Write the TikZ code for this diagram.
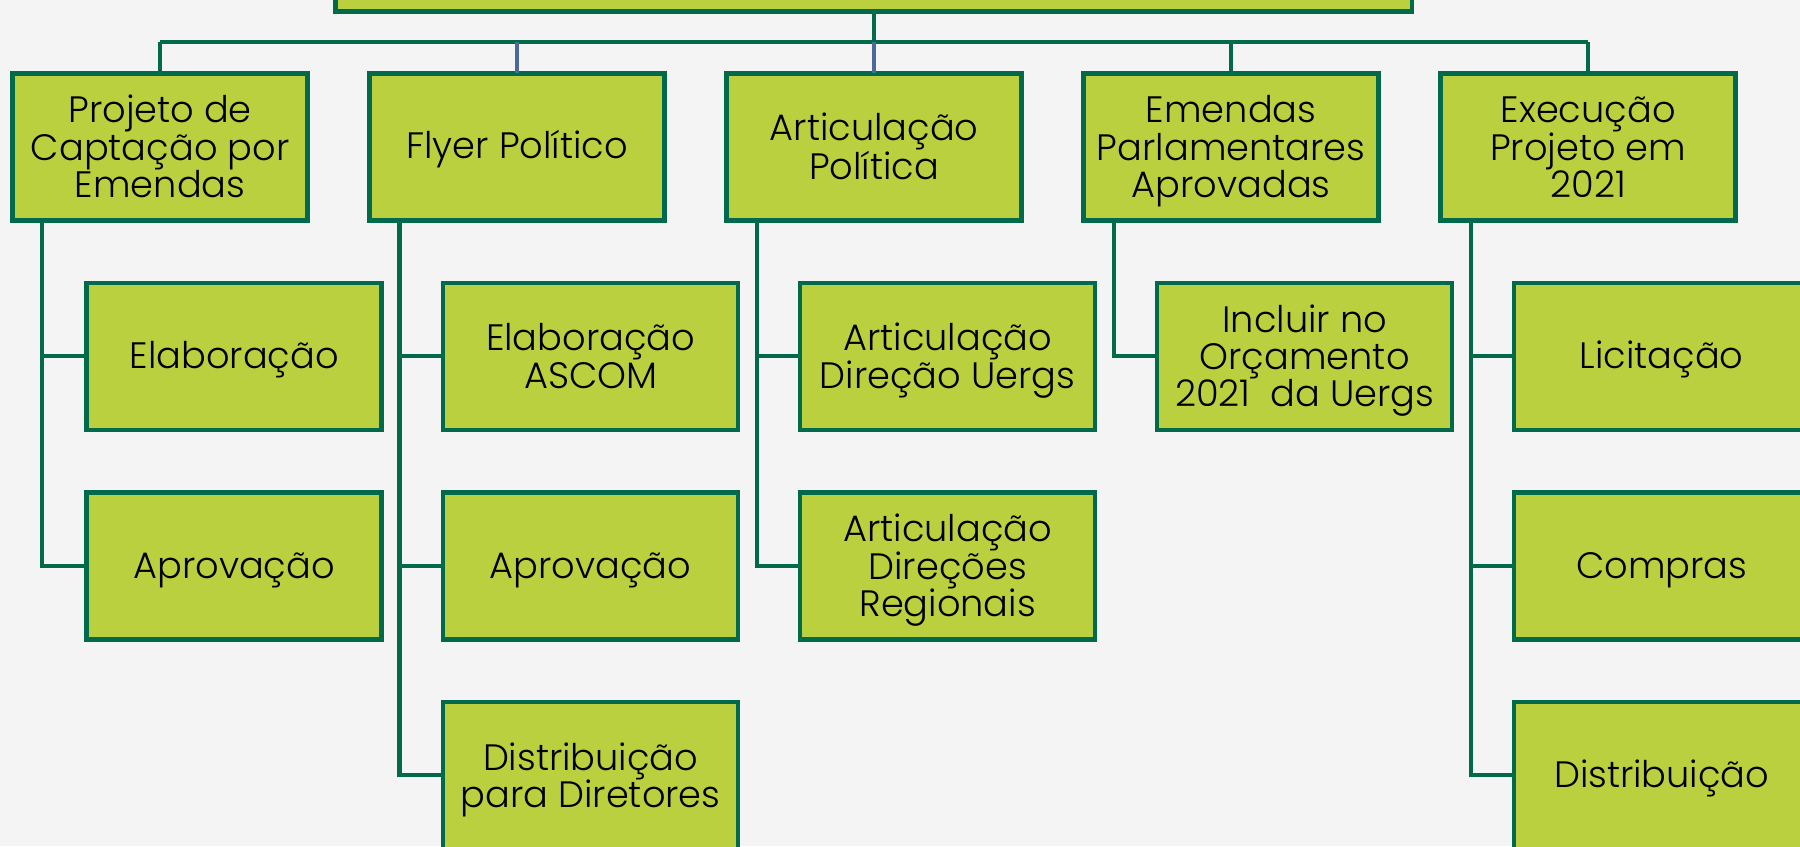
\documentclass[tikz,border=0pt]{standalone}
\usepackage{fontspec}
\setmainfont{Poppins}[UprightFont=* Light]
\definecolor{bg}{HTML}{F4F4F4}
\definecolor{boxfill}{HTML}{BBD03F}
\definecolor{boxline}{HTML}{006A4A}
\definecolor{blueline}{HTML}{4A6A9A}
\newcommand\topstrutx{\rule{0pt}{33pt}}
\newcommand\botstrutx{\rule[-12pt]{0pt}{12pt}}
\newcommand\ml{\rule{0pt}{35pt}}
\tikzset{
  box/.style={draw=boxline, fill=boxfill, line width=4pt, minimum width=257pt, minimum height=128pt,
    inner sep=0pt, outer sep=0pt, align=center, text=black,
    font=\fontsize{32}{32.5}\selectfont,
    execute at begin node=\topstrutx, execute at end node=\botstrutx},
  conn/.style={draw=boxline, line width=3.5pt},
  connb/.style={draw=blueline, line width=3.5pt},
}
\begin{document}
\begin{tikzpicture}[x=1pt,y=-1pt]
\fill[bg] (0,0) rectangle (1568,737);
\useasboundingbox (0,0) rectangle (1568,737);
\clip (0,0) rectangle (1568,737);
% top
\node[box, minimum width=938pt, minimum height=100pt] (top) at (761,-40) {};
% level 1
\node[box] (p1) at (139.5,128) {\ml Projeto de\\Captação por\\Emendas};
\node[box] (p2) at (450.5,128) {Flyer Político};
\node[box] (p3) at (761.5,128) {\ml Articulação\\Política};
\node[box] (p4) at (1072.5,128) {\ml Emendas\\Parlamentares\\Aprovadas};
\node[box] (p5) at (1383.5,128) {\ml Execução\\Projeto em\\2021};
% level 2
\node[box] (c11) at (204,310.5) {Elaboração};
\node[box] (c12) at (204,493) {Aprovação};
\node[box] (c21) at (514.5,310.5) {\ml Elaboração\\ASCOM};
\node[box] (c22) at (514.5,493) {Aprovação};
\node[box] (c23) at (514.5,675.5) {\ml Distribuição\\para Diretores};
\node[box] (c31) at (825.5,310.5) {\ml Articulação\\Direção Uergs};
\node[box] (c32) at (825.5,493) {\ml Articulação\\Direções\\Regionais};
\node[box] (c41) at (1136.5,310.5) {\ml Incluir no\\Orçamento\\2021\ \ da Uergs};
\node[box] (c51) at (1447.5,310.5) {Licitação};
\node[box] (c52) at (1447.5,493) {Compras};
\node[box] (c53) at (1447.5,675.5) {Distribuição};
% bus
\coordinate (bus) at (762,37);
\draw[conn] (top.south) -- (top.south |- bus);
\draw[conn] (p1.north |- bus) -- (p5.north |- bus);
\draw[conn] (p1.north |- bus) -- (p1.north);
\draw[connb] (p2.north |- bus) -- (p2.north);
\draw[connb] (p3.north |- bus) -- (p3.north);
\draw[conn] (p4.north |- bus) -- (p4.north);
\draw[conn] (p5.north |- bus) -- (p5.north);
% children
\draw[conn] ([xshift=26pt]p1.south west) |- (c12.west);
\draw[conn] ([xshift=26pt]p1.south west |- c11.west) -- (c11.west);
\draw[conn] ([xshift=26pt]p2.south west) |- (c23.west);
\draw[conn] ([xshift=26pt]p2.south west |- c21.west) -- (c21.west);
\draw[conn] ([xshift=26pt]p2.south west |- c22.west) -- (c22.west);
\draw[conn] ([xshift=26pt]p3.south west) |- (c32.west);
\draw[conn] ([xshift=26pt]p3.south west |- c31.west) -- (c31.west);
\draw[conn] ([xshift=26pt]p4.south west) |- (c41.west);
\draw[conn] ([xshift=26pt]p5.south west) |- (c53.west);
\draw[conn] ([xshift=26pt]p5.south west |- c51.west) -- (c51.west);
\draw[conn] ([xshift=26pt]p5.south west |- c52.west) -- (c52.west);
\end{tikzpicture}
\end{document}
